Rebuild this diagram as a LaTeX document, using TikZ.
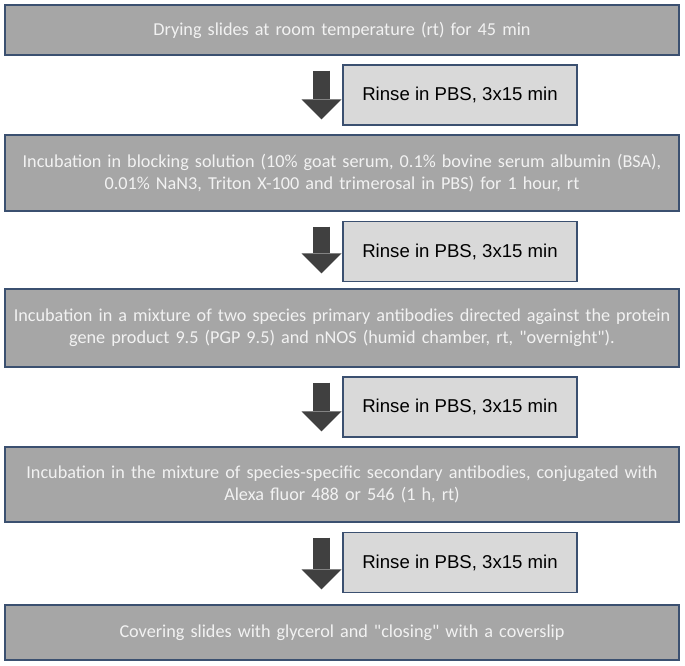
\documentclass[tikz,border=0pt]{standalone}
\usepackage{fontspec}
\setmainfont[WordSpace=0.75]{Carlito}
\newfontfamily\rinsefont{Liberation Sans}
\usetikzlibrary{arrows.meta}
\definecolor{stepgray}{HTML}{A6A6A6}
\definecolor{rinsegray}{HTML}{D9D9D9}
\definecolor{edgeblue}{HTML}{3B5070}
\definecolor{arrowgray}{HTML}{404040}

\begin{document}
\begin{tikzpicture}[x=0.5pt,y=-0.5pt,
            stepbox/.style={draw=edgeblue,fill=stepgray,line width=0.7pt,rectangle,minimum width=337pt,text width=336pt,align=center,inner sep=0pt,text=white!95!black,font=\fontsize{9.1}{11}\selectfont},
            rinse/.style={draw=edgeblue,fill=rinsegray,line width=0.6pt,rectangle,minimum width=117pt,minimum height=30pt,inner sep=0pt,font=\rinsefont\fontsize{9.3}{11}\selectfont},
            fat/.style={draw=arrowgray,line width=8.5pt,-{Triangle[length=10pt,width=20pt,line width=0pt]},shorten <=7.5pt,shorten >=7.5pt}
          ]
          \useasboundingbox (0,0) rectangle (685,665);

          %steps
          \node[stepbox,minimum height=25pt] (dry) at (342,30) {Drying slides at room temperature (rt) for 45  min};
          \node[stepbox,minimum height=38pt] (block) at (342,173) {Incubation in blocking solution (10\% goat serum, 0.1\% bovine serum albumin (BSA),\\ 0.01\%  NaN3, Triton X-100 and trimerosal in PBS) for 1 hour, rt};
          \node[stepbox,minimum height=39pt] (prim) at (342,328) {Incubation in a mixture of two species primary antibodies directed against the protein\\ gene product 9.5  (PGP 9.5) and  nNOS (humid chamber, rt, \textquotedbl overnight\textquotedbl).};
          \node[stepbox,minimum height=37.5pt] (sec) at (342,484.5) {Incubation in the mixture of species-specific secondary antibodies, conjugated with\\ Alexa fluor 488 or 546  (1 h, rt)};
          \node[stepbox,minimum height=27.5pt] (cover) at (342,632.5) {Covering slides with glycerol and \textquotedbl closing\textquotedbl\ with a coverslip};

          %rinses
          \node[rinse] (r1) at (460,95) {Rinse in PBS, 3x15 min};
          \node[rinse] (r2) at (460,251.5) {Rinse in PBS, 3x15 min};
          \node[rinse] (r3) at (460,407) {Rinse in PBS, 3x15 min};
          \node[rinse] (r4) at (460,562.5) {Rinse in PBS, 3x15 min};

          %arrows
          \draw[fat] ([xshift=-10.25pt]dry.south) -- ([xshift=-10.25pt]block.north);
          \draw[fat] ([xshift=-10.25pt]block.south) -- ([xshift=-10.25pt]prim.north);
          \draw[fat] ([xshift=-10.25pt]prim.south) -- ([xshift=-10.25pt]sec.north);
          \draw[fat] ([xshift=-10.25pt]sec.south) -- ([xshift=-10.25pt]cover.north);

      \end{tikzpicture}
\end{document}
